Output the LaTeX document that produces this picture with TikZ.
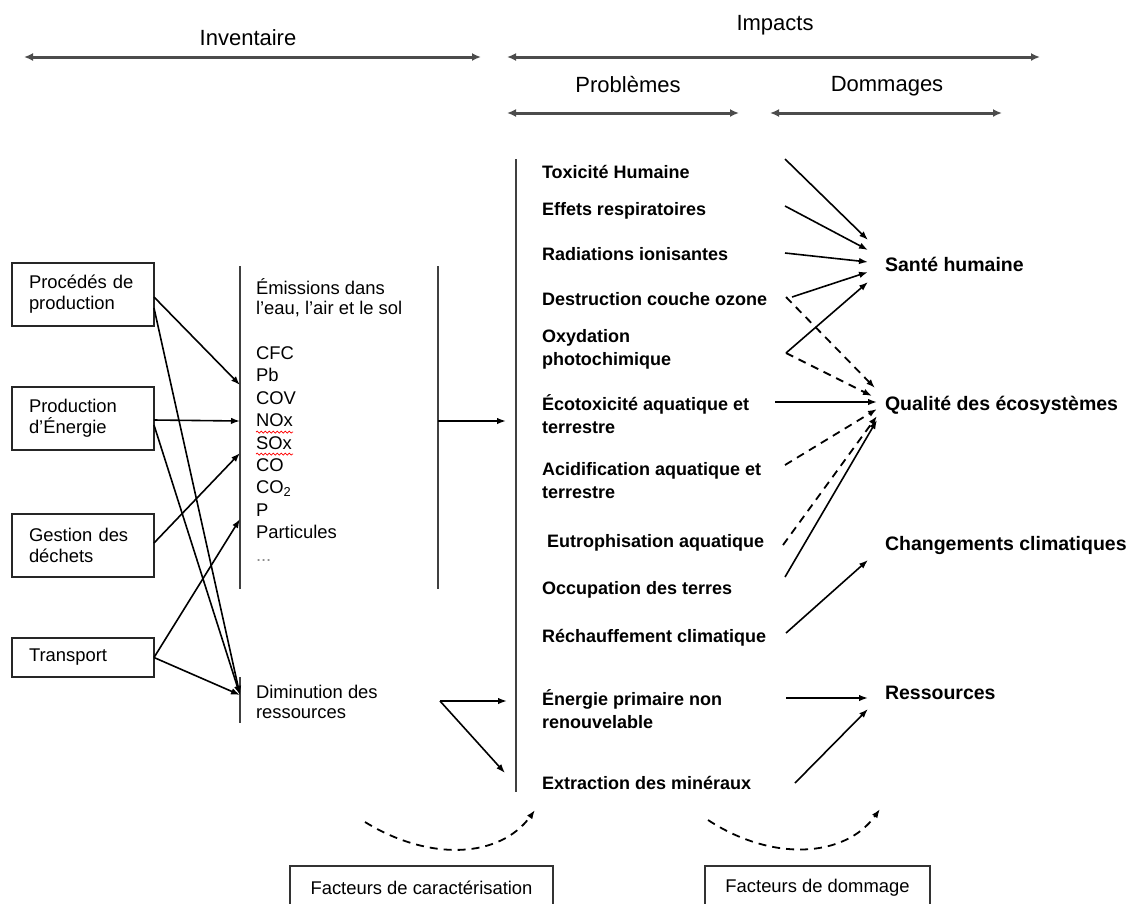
\documentclass[tikz,border=0pt]{standalone}
\usepackage{fontspec}
\setmainfont{Liberation Sans}
\usetikzlibrary{arrows.meta,decorations.pathmorphing}
\newcommand\fsz[2]{\fontsize{#1pt}{#2pt}\selectfont}

\begin{document}
\begin{tikzpicture}[x=1pt,y=-1pt,
  every node/.style={inner sep=0pt, outer sep=0pt},
  srcbox/.style={draw=black!85, line width=1.8pt, minimum width=142pt, inner xsep=17pt,
    text width=108pt, align=left, font=\fsz{18.4}{21}},
  factbox/.style={draw=black!80, line width=1.8pt, minimum height=44pt, font=\fsz{18.4}{22}},
  heading/.style={font=\fsz{22}{26}},
  spanarrow/.style={{Latex[length=9pt,width=8pt]}-{Latex[length=9pt,width=8pt]},
    line width=3pt, black!70},
  inv/.style={font=\fsz{18.4}{22.4}, anchor=base west},
  prob/.style={font=\bfseries\fsz{18}{23}, anchor=west, align=left},
  dmg/.style={font=\bfseries\fsz{19.5}{23}, anchor=west},
  vbar/.style={line width=2pt, black!75},
  conn/.style={-{Latex[length=9pt,width=6.5pt]}, line width=1.6pt},
  dconn/.style={conn, line width=1.8pt, dash pattern=on 8pt off 6pt},
  typo/.style={red, line width=0.7pt, decorate,
    decoration={snake, amplitude=1pt, segment length=4pt}}]

\path[use as bounding box] (0,0) rectangle (1131,903);
\clip (0,0) rectangle (1131,903);

% ---------- headings ----------
\node[heading] (hinv) at (248,38) {Inventaire};
\node[heading] (himp) at (775,25) {Impacts};
\node[heading] (hprob) at (628,85) {Problèmes};
\node[heading] (hdom) at (887,86) {Dommages};
\coordinate (invL) at (24,57);   \coordinate (invR) at (481,57);
\coordinate (impL) at (507,57);  \coordinate (impR) at (1040,57);
\coordinate (proL) at (507,113); \coordinate (proR) at (739,113);
\coordinate (domL) at (770,113); \coordinate (domR) at (1002,113);
\draw[spanarrow] (invL) -- (invR);
\draw[spanarrow] (impL) -- (impR);
\draw[spanarrow] (proL) -- (proR);
\draw[spanarrow] (domL) -- (domR);

% ---------- sources ----------
\node[srcbox, minimum height=63pt] (proc) at (83,294.5) {Procédés de\\production};
\node[srcbox, minimum height=63pt] (ener) at (83,418.5) {Production\\d’Énergie};
\node[srcbox, minimum height=63pt] (gest) at (83,545.5) {Gestion des\\déchets};
\node[srcbox, minimum height=39pt] (trans) at (83,657.5) {Transport};

% ---------- inventory ----------
\coordinate (eTop) at (240,266); \coordinate (eBot) at (240,589);
\coordinate (fTop) at (438,266); \coordinate (fBot) at (438,589);
\coordinate (dTop) at (240,677); \coordinate (dBot) at (240,723);
\draw[vbar] (eTop) -- (eBot);
\draw[vbar] (fTop) -- (fBot);
\draw[vbar] (dTop) -- (dBot);

\node[inv] (em1) at (256,294) {Émissions dans};
\node[inv] (em2) at (256,314) {l’eau, l’air et le sol};
\foreach \t [count=\i from 0] in {CFC,Pb,COV,NOx,SOx,CO,CO\textsubscript{2},P,Particules}
  \node[inv] (sub\i) at (256,359.5+22.4*\i) {\t};
\node[inv, text=black!45] (subdots) at (256,561) {...};
\draw[typo] (256,432) -- (293,432);
\draw[typo] (256,454) -- (293,454);

\node[inv] (dim1) at (256,698) {Diminution des};
\node[inv] (dim2) at (256,718) {ressources};

\coordinate (e1) at (240,385);
\coordinate (e2) at (240,421);
\coordinate (e3) at (240,453);
\coordinate (e4) at (240,519);
\coordinate (d0) at (240,695);
\draw[conn] ([yshift=-2.5pt]proc.east) -- (e1);
\draw[conn] ([yshift=-13.5pt]proc.east) -- (d0);
\draw[conn] ([yshift=-1.5pt]ener.east) -- (e2);
\draw[conn] ([yshift=-6.5pt]ener.east) -- (d0);
\draw[conn] ([yshift=2.5pt]gest.east) -- (e3);
\draw[conn] (trans.east) -- (e4);
\draw[conn] (trans.east) -- (d0);

% ---------- problems ----------
\coordinate (pTop) at (516,159); \coordinate (pBot) at (516,792);
\draw[vbar] (pTop) -- (pBot);

\coordinate (eo) at (438,421);  \coordinate (pin) at (506,421);
\draw[conn] (eo) -- (pin);
\coordinate (dout) at (440,701);
\coordinate (pe) at (507,701);  \coordinate (px) at (505,773);
\draw[conn] (dout) -- (pe);
\draw[conn] (dout) -- (px);

\node[prob] (tox) at (542,172) {Toxicité Humaine};
\node[prob] (eff) at (542,211) {Effets respiratoires};
\node[prob] (rad) at (542,254) {Radiations ionisantes};
\node[prob] (des) at (542,299) {Destruction couche ozone};
\node[prob] (oxy) at (542,349.5) {Oxydation\\photochimique};
\node[prob] (eco) at (542,414.5) {Écotoxicité aquatique et\\terrestre};
\node[prob] (aci) at (542,480.5) {Acidification aquatique et\\terrestre};
\node[prob] (eut) at (547,543) {Eutrophisation aquatique};
\node[prob] (occ) at (542,590) {Occupation des terres};
\node[prob] (rec) at (542,638) {Réchauffement climatique};
\node[prob] (ene) at (542,709.5) {Énergie primaire non\\renouvelable};
\node[prob] (ext) at (542,783) {Extraction des minéraux};

% ---------- damages ----------
\node[dmg] (sante) at (885,264) {Santé humaine};
\node[dmg] (qual) at (885,405) {Qualité des écosystèmes};
\node[dmg] (chang) at (885,545) {Changements climatiques};
\node[dmg] (ress) at (885,693) {Ressources};

% problem -> damage links
\coordinate (toxO) at (785,159);  \coordinate (s1) at (868,240);
\coordinate (effO) at (785,206);  \coordinate (s2) at (868,250);
\coordinate (radO) at (785,253);  \coordinate (s3) at (868,262);
\coordinate (desO) at (792,297);  \coordinate (s4) at (868,272);
\coordinate (oxyO) at (786,353);  \coordinate (s5) at (868,282);
\coordinate (desD) at (786,297);  \coordinate (q1) at (875,388);
\coordinate (oxyD) at (786,353);  \coordinate (q2) at (872,396);
\coordinate (ecoO) at (775,402);  \coordinate (q3) at (877,402);
\coordinate (aciO) at (785,465);  \coordinate (q4) at (877,409);
\coordinate (eutO) at (783,545);  \coordinate (q5) at (877,416);
\coordinate (occO) at (785,577);  \coordinate (q6) at (877,420);
\coordinate (recO) at (786,633);  \coordinate (c1) at (868,560);
\coordinate (eneO) at (786,698);  \coordinate (r1) at (868,698);
\coordinate (extO) at (795,783);  \coordinate (r2) at (868,709);

\draw[conn] (toxO) -- (s1);
\draw[conn] (effO) -- (s2);
\draw[conn] (radO) -- (s3);
\draw[conn] (desO) -- (s4);
\draw[conn] (oxyO) -- (s5);
\draw[dconn] (desD) -- (q1);
\draw[dconn] (oxyD) -- (q2);
\draw[conn] (ecoO) -- (q3);
\draw[dconn] (aciO) -- (q4);
\draw[dconn] (eutO) -- (q5);
\draw[conn] (occO) -- (q6);
\draw[conn] (recO) -- (c1);
\draw[conn] (eneO) -- (r1);
\draw[conn] (extO) -- (r2);

% ---------- factors ----------
\coordinate (cfS) at (365,822); \coordinate (cfE) at (535,810);
\coordinate (dfS) at (708,820); \coordinate (dfE) at (880,809);
\draw[dconn] (cfS) .. controls (430,862) and (500,858) .. (cfE);
\draw[dconn] (dfS) .. controls (772,862) and (845,858) .. (dfE);

\node[factbox, minimum width=263pt, anchor=north west] (fcar) at (290,866) {Facteurs de caractérisation};
\node[factbox, minimum width=225pt, anchor=north west] (fdom) at (705,866) {Facteurs de dommage};
\end{tikzpicture}
\end{document}
